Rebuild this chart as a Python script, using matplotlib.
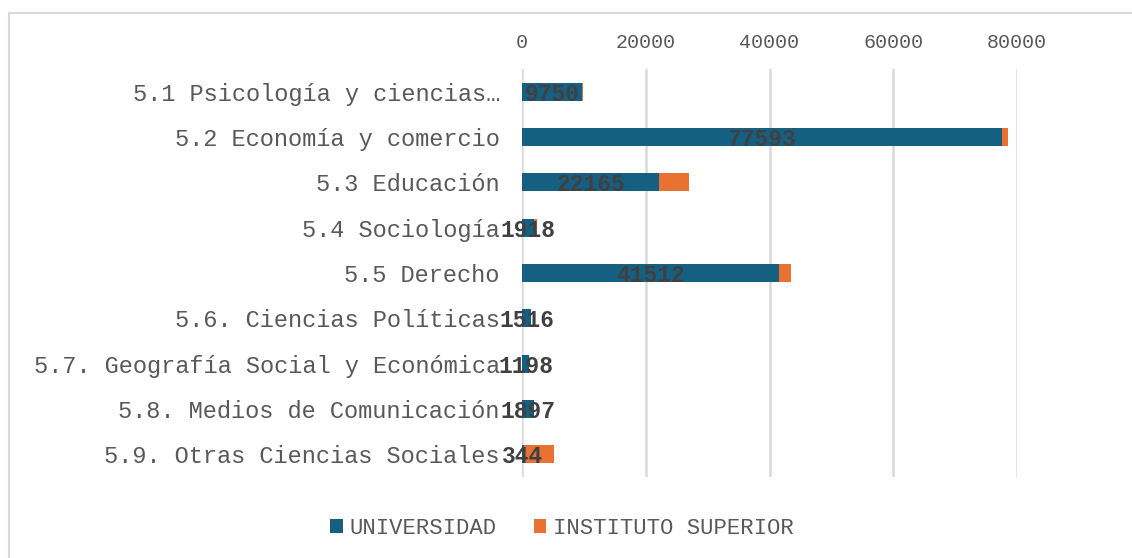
import matplotlib
matplotlib.use("Agg")
import matplotlib.pyplot as plt
from matplotlib.patches import Patch, Rectangle
import numpy as np

categories = [
    "5.1 Psicología y ciencias…",
    "5.2 Economía y comercio",
    "5.3 Educación",
    "5.4 Sociología",
    "5.5 Derecho",
    "5.6. Ciencias Políticas",
    "5.7. Geografía Social y Económica",
    "5.8. Medios de Comunicación",
    "5.9. Otras Ciencias Sociales",
]
universidad = [9750, 77593, 22165, 1918, 41512, 1516, 1198, 1897, 344]
instituto = [150, 900, 4800, 500, 1950, 0, 0, 100, 4900]
xticks = [0, 20000, 40000, 60000, 80000]

BLUE = "#156082"
ORANGE = "#E97132"
FONT = ["Liberation Mono", "DejaVu Sans Mono"]

W, H = 1132, 558
fig = plt.figure(figsize=(W / 100, H / 100), dpi=100)
ax = fig.add_axes([522 / W, 1 - 477 / H, (1017 - 522) / W, (477 - 69) / H])

y = np.arange(len(categories))
ax.barh(y, universidad, height=0.4, color=BLUE, label="UNIVERSIDAD", zorder=3)
ax.barh(y, instituto, left=universidad, height=0.4, color=ORANGE,
        label="INSTITUTO SUPERIOR", zorder=3)

for yi, v in zip(y, universidad):
    ax.text(v / 2, yi, f"{v}", ha="center", va="center_baseline", fontsize=16.5,
            fontweight="bold", color="#404040", family=FONT, zorder=4)

ax.set_ylim(len(categories) - 0.5, -0.5)
ax.set_xlim(0, 80000)
ax.set_yticks(y)
ax.set_yticklabels(categories, family=FONT, fontsize=17, color="#595959")
ax.set_xticks(xticks)
ax.set_xticklabels([str(t) for t in xticks], family=FONT, fontsize=14.4, color="#595959")
ax.xaxis.tick_top()
ax.tick_params(axis="x", length=0, pad=12)
ax.tick_params(axis="y", length=0, pad=16)
for s in ax.spines.values():
    s.set_visible(False)
ax.grid(axis="x", color="#D9D9D9", linewidth=1.8, zorder=0)
ax.set_axisbelow(True)

handles = [Patch(facecolor=BLUE), Patch(facecolor=ORANGE)]
leg = fig.legend(handles, ["UNIVERSIDAD", "INSTITUTO SUPERIOR"], loc="center",
                 bbox_to_anchor=(562 / W, 1 - 528 / H), ncol=2, frameon=False,
                 prop={"family": FONT, "size": 16}, handlelength=0.55,
                 handleheight=0.6, handletextpad=0.3, columnspacing=1.7)
for t in leg.get_texts():
    t.set_color("#595959")

fig.patches.append(Rectangle((8.5 / W, -0.1), 1.2, (1 - 13 / H) + 0.1,
                             transform=fig.transFigure, fill=False,
                             edgecolor="#D9D9D9", linewidth=1.5))

fig.savefig("out.png", dpi=100, facecolor="white")
